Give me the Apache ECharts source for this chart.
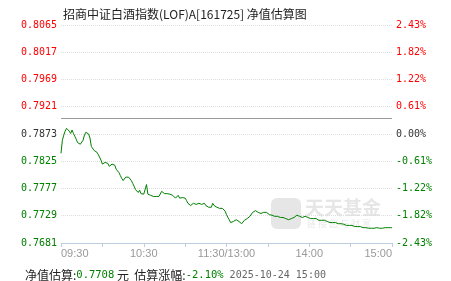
<!DOCTYPE html>
<html>
<head>
<meta charset="utf-8">
<script src="https://cdn.jsdelivr.net/npm/echarts@6/dist/echarts.min.js"></script>
<style>
html,body{margin:0;padding:0;background:#fff;}
#c{width:451px;height:281px;}
</style>
</head>
<body>
<div id="c"></div>
<script>
// ---- data ----
const titleText = '招商中证白酒指数(LOF)A[161725] 净值估算图';
const baseValue = 0.7873;
const yMin = 0.7681, yMax = 0.8065, yStep = 0.0048;
const leftTickLabels = ['0.7681','0.7729','0.7777','0.7825','0.7873','0.7921','0.7969','0.8017','0.8065'];
const rightTickLabels = ['-2.43%','-1.82%','-1.22%','-0.61%','0.00%','0.61%','1.22%','1.82%','2.43%'];
const xTickLabels = ['09:30','','10:30','','11:30/13:00','','14:00','','15:00'];
const estValue = '0.7708';
const estChange = '-2.10%';
const estTime = '2025-10-24 15:00';
// estimated NAV, one value per trading minute (09:30 .. 15:00)
const navValues = [
0.7839,0.7862,0.7871,0.7878,0.7883,0.7885,0.7878,0.7874,0.7880,0.7874,
0.7869,0.7864,0.7858,0.7855,0.7855,0.7857,0.7862,0.7871,0.7876,0.7878,
0.7873,0.7866,0.7851,0.7851,0.7844,0.7846,0.7841,0.7837,0.7834,0.7827,
0.7820,0.7821,0.7823,0.7820,0.7821,0.7816,0.7818,0.7820,0.7818,0.7818,
0.7811,0.7809,0.7805,0.7800,0.7795,0.7791,0.7793,0.7797,0.7795,0.7797,
0.7795,0.7791,0.7786,0.7781,0.7775,0.7772,0.7770,0.7774,0.7768,0.7765,
0.7767,0.7770,0.7784,0.7767,0.7765,0.7765,0.7767,0.7763,0.7763,0.7763,
0.7765,0.7763,0.7765,0.7772,0.7775,0.7768,0.7768,0.7768,0.7767,0.7767,
0.7767,0.7765,0.7763,0.7760,0.7761,0.7765,0.7760,0.7760,0.7761,0.7760,
0.7760,0.7756,0.7751,0.7749,0.7747,0.7749,0.7751,0.7751,0.7749,0.7749,
0.7751,0.7751,0.7749,0.7751,0.7751,0.7747,0.7744,0.7744,0.7742,0.7744,
0.7751,0.7747,0.7744,0.7744,0.7742,0.7742,0.7742,0.7742,0.7740,0.7737,
0.7731,0.7726,0.7722,0.7717,0.7717,0.7719,0.7721,0.7722,0.7721,0.7719,
0.7719,0.7715,0.7717,0.7721,0.7722,0.7724,0.7724,0.7728,0.7731,0.7735,
0.7738,0.7738,0.7737,0.7735,0.7733,0.7733,0.7735,0.7735,0.7737,0.7735,
0.7733,0.7731,0.7730,0.7730,0.7730,0.7728,0.7728,0.7728,0.7728,0.7726,
0.7726,0.7726,0.7724,0.7724,0.7724,0.7722,0.7724,0.7724,0.7726,0.7726,
0.7728,0.7730,0.7730,0.7728,0.7726,0.7726,0.7728,0.7728,0.7726,0.7726,
0.7726,0.7724,0.7724,0.7724,0.7724,0.7724,0.7722,0.7721,0.7721,0.7721,
0.7721,0.7721,0.7721,0.7719,0.7719,0.7717,0.7717,0.7717,0.7717,0.7717,
0.7717,0.7715,0.7715,0.7715,0.7715,0.7714,0.7714,0.7712,0.7712,0.7712,
0.7712,0.7712,0.7712,0.7710,0.7710,0.7710,0.7710,0.7710,0.7710,0.7708,
0.7708,0.7708,0.7708,0.7707,0.7707,0.7707,0.7707,0.7707,0.7708,0.7708,
0.7708,0.7707,0.7707,0.7707,0.7707,0.7708,0.7707,0.7708,0.7708,0.7708,
0.7708
];

const RED = '#ff0000', GREEN = '#008000', DARK = '#333333';
const monoFont = 'DejaVu Sans Mono';
const cjkFont = '"Noto Sans CJK SC", "Noto Sans", sans-serif';

function labelColor(idx) {
  if (idx > 4) return RED;
  if (idx < 4) return GREEN;
  return DARK;
}

const seriesData = navValues.map((v, i) => [i, v]);
const chart = echarts.init(document.getElementById('c'), null, {renderer: 'canvas'});

chart.setOption({
  animation: false,
  backgroundColor: '#ffffff',
  grid: {left: 61, right: 59, top: 25, bottom: 38, containLabel: false},
  title: [
    {text: titleText, left: 58, top: 3,
     textStyle: {fontSize: 12, fontWeight: 'normal', color: '#222', fontFamily: cjkFont}},
    {text: '{a|净值估算:}{g|' + estValue + '}{a| 元  估算涨幅:}{g|' + estChange + '}{d| ' + estTime + '}',
     left: 20, top: 264,
     textStyle: {fontWeight: 'normal', rich: {
       a: {fontSize: 12, color: '#222', fontFamily: cjkFont, fontWeight: 'normal'},
       g: {fontSize: 10.5, color: GREEN, fontFamily: monoFont, fontWeight: 'normal'},
       d: {fontSize: 10, color: '#666', fontFamily: monoFont, fontWeight: 'normal'}
     }}}
  ],
  graphic: [
    {type: 'rect', left: 271, top: 198, shape: {width: 30, height: 31, r: 6}, z: 0,
     style: {fill: '#e6e6e6'}},
    {type: 'text', left: 305, top: 198, z: 0,
     style: {text: '天天基金', fill: '#e6e6e6', font: 'bold 19px "Noto Sans CJK SC"'}},
    {type: 'text', left: 307, top: 219, z: 0,
     style: {text: '链 接 您 与 财 富', fill: '#e8e8e8', font: '9px "Noto Sans CJK SC"'}}
  ],
  xAxis: {
    type: 'value', min: 0, max: 240, interval: 30,
    axisLine: {show: true, lineStyle: {color: '#bfcfdf', width: 1}},
    axisTick: {show: true, length: 4, lineStyle: {color: '#bfcfdf'}},
    splitLine: {show: false},
    axisLabel: {
      color: '#999', fontSize: 11, fontFamily: 'Liberation Sans, Arial, sans-serif', margin: 5,
      alignMinLabel: 'left', alignMaxLabel: 'right',
      formatter: (v) => xTickLabels[Math.round(v / 30)] || ''
    }
  },
  yAxis: [
    {type: 'value', min: yMin, max: yMax, interval: yStep, position: 'left',
     axisLine: {show: false}, axisTick: {show: false},
     splitLine: {show: true, lineStyle: {color: '#dddddd', type: [1, 1], width: 1}},
     axisLabel: {margin: 4, fontSize: 10, fontFamily: monoFont,
       formatter: (v, i) => leftTickLabels[i],
       color: (v, i) => labelColor(i)}},
    {type: 'value', min: yMin, max: yMax, interval: yStep, position: 'right',
     axisLine: {show: false}, axisTick: {show: false}, splitLine: {show: false},
     axisLabel: {margin: 4, fontSize: 10, fontFamily: monoFont,
       formatter: (v, i) => rightTickLabels[i],
       color: (v, i) => labelColor(i)}}
  ],
  series: [{
    type: 'line', data: seriesData, showSymbol: false, symbol: 'none',
    lineStyle: {color: '#008000', width: 1}, z: 3,
    markLine: {silent: true, symbol: 'none', label: {show: false},
      lineStyle: {color: '#999999', type: 'solid', width: 1},
      data: [{yAxis: baseValue}]}
  }]
});
</script>
</body>
</html>
